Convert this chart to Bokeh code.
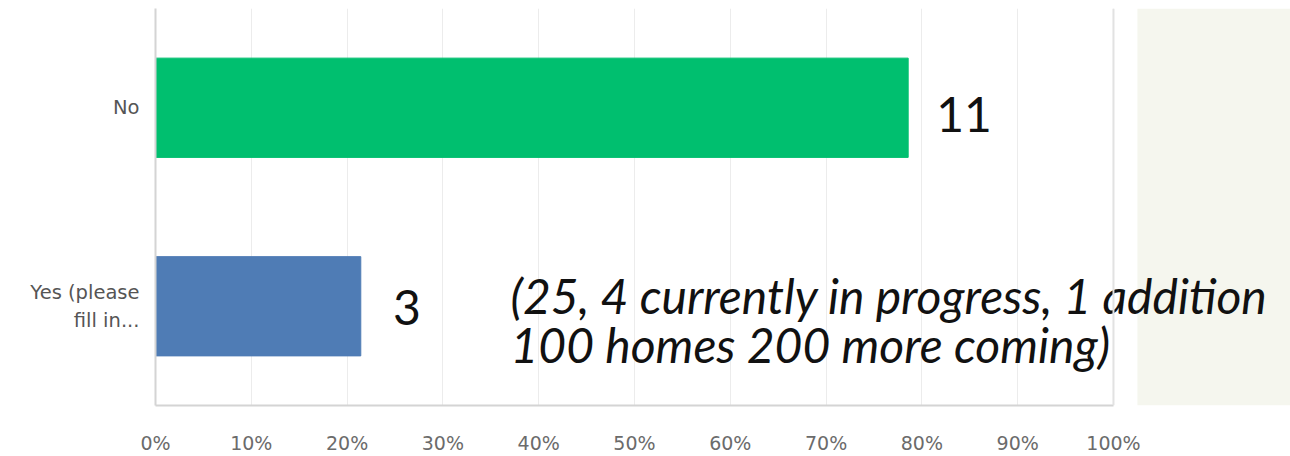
from bokeh.plotting import figure
from bokeh.models import (FactorRange, Range1d, FixedTicker, BoxAnnotation, Span,
                          ColumnDataSource)
from bokeh.core.properties import value
from bokeh.embed import file_html
from bokeh.resources import INLINE

# ---- data ----
categories = ["Yes (please\nfill in...", "No"]      # bottom to top
percents = [21.43, 78.57]
counts = ["3", "11"]
bar_colors = ["#4f7cb5", "#00bf6f"]
tick_values = [0, 10, 20, 30, 40, 50, 60, 70, 80, 90, 100]
note_lines = ["(25, 4 currently in progress, 1 addition",
              "100 homes 200 more coming)"]

W, H = 1290, 456
X_END = 118.48

p = figure(width=W, height=H, output_backend="svg", toolbar_location=None,
           y_range=FactorRange(factors=categories, range_padding=0),
           x_range=Range1d(0, X_END),
           min_border_left=155, min_border_right=0, min_border_top=8, min_border_bottom=0)
p.outline_line_color = None
p.background_fill_color = "white"
p.border_fill_color = "white"

# beige side panel
p.add_layout(BoxAnnotation(left=102.5, fill_color="#f5f6ee", fill_alpha=1,
                           line_color=None, level="underlay"))

src = ColumnDataSource(dict(cat=categories, pct=percents, color=bar_colors))
p.hbar(y="cat", right="pct", left=0, height=0.5, color="color", source=src)

# axes
xa = p.xaxis[0]
xa.ticker = FixedTicker(ticks=tick_values)
xa.bounds = (0, 100)
xa.major_label_overrides = {t: f"{t}%" for t in tick_values}
xa.major_tick_line_color = None
xa.minor_tick_line_color = None
xa.major_tick_out = 0
xa.major_label_standoff = 26
xa.axis_line_color = "#d4d4d4"
xa.axis_line_width = 2
xa.major_label_text_font = "DejaVu Sans"
xa.major_label_text_font_size = "19px"
xa.major_label_text_color = "#6b6b6b"

ya = p.yaxis[0]
ya.major_tick_line_color = None
ya.minor_tick_line_color = None
ya.major_tick_out = 0
ya.major_label_standoff = 16
ya.axis_line_color = "#d4d4d4"
ya.axis_line_width = 2
ya.major_label_text_font = "DejaVu Sans"
ya.major_label_text_font_size = "19.5px"
ya.major_label_text_color = "#555555"
ya.major_label_text_align = "right"

p.xgrid.ticker = FixedTicker(ticks=tick_values)
p.xgrid.grid_line_color = "#ececec"
p.xgrid.grid_line_width = 1
p.ygrid.grid_line_color = None
p.add_layout(Span(location=100, dimension="height", line_color="#e2e2e2", line_width=2))

# count annotations
p.text(x=[24.8, 81.5], y=[0.495, 1.465], text=counts,
       text_font=value("Lato"), text_font_size="48px", text_color="#111111",
       text_baseline="alphabetic", text_align="left")

# note
p.text(x=[37.06, 37.06], y=[0.555, 0.305], text=note_lines,
       text_font=value("Lato"), text_font_style="italic", text_font_size="48px",
       text_color="#111111", text_baseline="alphabetic", text_align="left")

open("out.html", "w").write(file_html(p, INLINE))
